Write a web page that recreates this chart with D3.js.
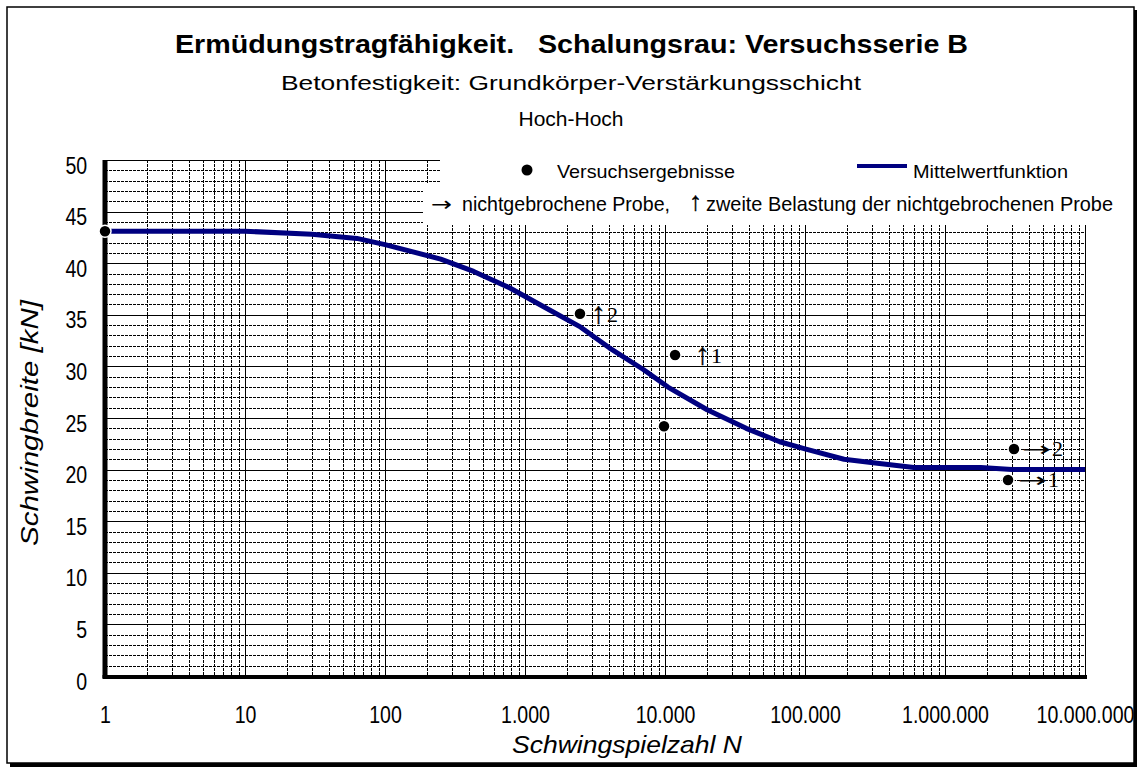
<!DOCTYPE html>
<html><head><meta charset="utf-8">
<script src="https://cdn.jsdelivr.net/npm/d3@7"></script>
<style>
body{margin:0;background:#fff;}
svg{display:block;}
.sans{font-family:"Liberation Sans",Arial,Helvetica,sans-serif;}
.serif{font-family:"Liberation Serif","Times New Roman",serif;}
.arrow{font-family:"DejaVu Sans","DejaVu Serif",sans-serif;}
</style></head>
<body><svg id="c" width="1142" height="769"></svg>
<script>
// ---------- data ----------
const titleLines = ["Ermüdungstragfähigkeit.   Schalungsrau: Versuchsserie B",
                    "Betonfestigkeit: Grundkörper-Verstärkungsschicht",
                    "Hoch-Hoch"];
const xTicks = [1, 10, 100, 1000, 10000, 100000, 1000000, 10000000];
const yTicks = [0, 5, 10, 15, 20, 25, 30, 35, 40, 45, 50];
const xMinor = [2, 3, 4, 5, 6, 7, 8, 9];
const yMinor = [1,2,3,4,6,7,8,9,11,12,13,14,16,17,18,19,21,22,23,24,26,27,28,29,31,32,33,34,36,37,38,39,41,42,43,44,46,47,48,49];

// test results (Versuchsergebnisse)
const resultN     = [1, 2470, 11800, 9840, 3110000, 2820000];
const resultKN    = [43.1, 35.1, 31.1, 24.2, 22.0, 19.0];
const resultArrow = ["", "↑", "↑", "", "→", "→"];
const resultNo    = ["", "2", "1", "", "2", "1"];

// mean-value function (Mittelwertfunktion)
const meanN  = [1, 10, 30, 63, 100, 250, 430, 780, 1350, 2500, 4000, 7000, 10500, 20000, 38000, 66000, 100000, 190000, 340000, 600000, 1800000, 3000000, 10000000];
const meanKN = [43.1, 43.1, 42.8, 42.4, 41.8, 40.4, 39.2, 37.6, 35.8, 33.8, 31.8, 29.7, 28.0, 25.8, 24.0, 22.7, 22.0, 21.0, 20.6, 20.2, 20.2, 20.0, 20.0];

const legendItems = ["Versuchsergebnisse", "Mittelwertfunktion"];
const legendNoteParts = ["→", "nichtgebrochene Probe,", "↑", "zweite Belastung der nichtgebrochenen Probe"];
const xTitle = "Schwingspielzahl N";
const yTitle = "Schwingbreite [kN]";

// ---------- drawing ----------
const svg = d3.select("#c");
const x = d3.scaleLog().domain([1, 1e7]).range([105, 1085]);
const y = d3.scaleLinear().domain([0, 50]).range([676, 160]);
const de = d3.formatLocale({decimal:",", thousands:".", grouping:[3], currency:["","€"]});
const fmt = de.format(",");
const px = v => Math.round(v) + 0.5;

// outer frame with shadow
svg.append("rect").attr("x",1133).attr("y",10).attr("width",4).attr("height",757).attr("fill","#000");
svg.append("rect").attr("x",10).attr("y",763).attr("width",1127).attr("height",4).attr("fill","#000");
svg.append("rect").attr("x",7).attr("y",7).attr("width",1127).attr("height",756)
  .attr("fill","#fff").attr("stroke","#000").attr("stroke-width",1.5);

// grid
const g = svg.append("g").attr("shape-rendering","crispEdges");
const minorX = [];
for (let d = 0; d < 7; d++) xMinor.forEach(m => minorX.push(m * Math.pow(10, d)));

g.selectAll("line.mx").data(minorX).join("line")
  .attr("x1", d => px(x(d))).attr("x2", d => px(x(d))).attr("y1", y(50)).attr("y2", y(0))
  .attr("stroke","#000").attr("stroke-width",1).attr("stroke-dasharray","3,1");
g.selectAll("line.my").data(yMinor).join("line")
  .attr("x1", x(1)).attr("x2", x(1e7)).attr("y1", d => px(y(d))).attr("y2", d => px(y(d)))
  .attr("stroke","#000").attr("stroke-width",1).attr("stroke-dasharray","3,1");
g.selectAll("line.Mx").data(xTicks).join("line")
  .attr("x1", d => px(x(d))).attr("x2", d => px(x(d))).attr("y1", y(50)).attr("y2", y(0))
  .attr("stroke","#000").attr("stroke-width",1);
g.selectAll("line.My").data(yTicks).join("line")
  .attr("x1", x(1)).attr("x2", x(1e7)).attr("y1", d => px(y(d))).attr("y2", d => px(y(d)))
  .attr("stroke","#000").attr("stroke-width",1);

// legend white areas
svg.append("rect").attr("x",440).attr("y",157).attr("width",x(1e7)-440+4).attr("height",28).attr("fill","#fff");
svg.append("rect").attr("x",423).attr("y",183).attr("width",x(1e7)-423+4).attr("height",42).attr("fill","#fff");

// axes lines (thick)
svg.append("line").attr("x1",x(1)).attr("x2",x(1)).attr("y1",y(50)).attr("y2",y(0)+2)
  .attr("stroke","#000").attr("stroke-width",5);
svg.append("line").attr("x1",x(1)-2.5).attr("x2",x(1e7)+2).attr("y1",y(0)+1).attr("y2",y(0)+1)
  .attr("stroke","#000").attr("stroke-width",4);

// axes labels via d3 axes
const xAxis = svg.append("g").attr("transform",`translate(0,${y(0)})`)
  .call(d3.axisBottom(x).tickValues(xTicks).tickSize(0).tickPadding(31).tickFormat(fmt));
xAxis.select(".domain").remove();
xAxis.selectAll("text").attr("class","sans").attr("font-size",23).attr("fill","#000")
  .attr("transform","scale(0.85,1)");

const yAxis = svg.append("g").attr("transform",`translate(${x(1)},0)`)
  .call(d3.axisLeft(y).tickValues(yTicks).tickSize(0).tickPadding(21));
yAxis.select(".domain").remove();
yAxis.selectAll("text").attr("class","sans").attr("font-size",23).attr("fill","#000")
  .attr("dy","0.57em").attr("transform","scale(0.85,1)");

// mean line
const line = d3.line().x((d,i) => x(meanN[i])).y((d,i) => y(meanKN[i]));
svg.append("path").datum(meanN).attr("d", line)
  .attr("fill","none").attr("stroke","#000080").attr("stroke-width",5).attr("stroke-linejoin","round");

// result points
const idx = d3.range(resultN.length);
svg.selectAll("circle.res").data(idx).join("circle")
  .attr("cx", i => x(resultN[i])).attr("cy", i => y(resultKN[i])).attr("r",6)
  .attr("fill","#000").attr("stroke","#fff").attr("stroke-width",1.5);

// annotation arrows + numbers
const arrowDx = [0, 11, 20, 8, 8, 10];
const notes = idx.filter(i => resultArrow[i]);
notes.forEach(i => {
  const cx = x(resultN[i]), cy = y(resultKN[i]);
  if (resultArrow[i] === "↑") {
    const t = svg.append("text").attr("class","serif").attr("x", cx + arrowDx[i]).attr("y", cy + 8)
      .attr("fill","#000");
    t.append("tspan").attr("font-size",30).attr("dy",1)
      .attr("stroke","#000").attr("stroke-width",0.4).text(resultArrow[i]);
    t.append("tspan").attr("font-size",22).attr("dy",-1).attr("dx",1).text(resultNo[i]);
  } else {
    svg.append("text").attr("class","arrow").attr("x", cx + arrowDx[i]).attr("y", cy + 7)
      .attr("font-size",20).attr("fill","#000")
      .attr("textLength",29).attr("lengthAdjust","spacingAndGlyphs").text(resultArrow[i]);
    svg.append("text").attr("class","serif").attr("x", cx + arrowDx[i] + 30).attr("y", cy + 7)
      .attr("font-size",22).attr("fill","#000").text(resultNo[i]);
  }
});

// legend
svg.append("circle").attr("cx",527).attr("cy",170).attr("r",5.5).attr("fill","#000");
svg.append("text").attr("class","sans").attr("x",557).attr("y",178).attr("font-size",19)
  .attr("textLength",178).attr("lengthAdjust","spacingAndGlyphs").text(legendItems[0]);
svg.append("line").attr("x1",857).attr("x2",907).attr("y1",166).attr("y2",166).attr("stroke","#000080").attr("stroke-width",4);
svg.append("text").attr("class","sans").attr("x",913).attr("y",178).attr("font-size",19)
  .attr("textLength",155).attr("lengthAdjust","spacingAndGlyphs").text(legendItems[1]);
// legend note line (arrows drawn larger, as in the reference)
svg.append("text").attr("class","arrow").attr("x",431).attr("y",211).attr("font-size",20)
  .attr("textLength",21).attr("lengthAdjust","spacingAndGlyphs").text(legendNoteParts[0]);
svg.append("text").attr("class","sans").attr("x",462).attr("y",211).attr("font-size",21)
  .attr("textLength",208).attr("lengthAdjust","spacingAndGlyphs").text(legendNoteParts[1]);
svg.append("text").attr("class","serif").attr("x",689).attr("y",210).attr("font-size",26)
  .attr("stroke","#000").attr("stroke-width",0.4).text(legendNoteParts[2]);
svg.append("text").attr("class","sans").attr("x",706).attr("y",211).attr("font-size",21)
  .attr("textLength",407).attr("lengthAdjust","spacingAndGlyphs").text(legendNoteParts[3]);

// titles
svg.append("text").attr("class","sans").attr("x",571.5).attr("y",53).attr("text-anchor","middle")
  .attr("font-size",25).attr("font-weight","bold").style("white-space","pre")
  .attr("textLength",793).attr("lengthAdjust","spacingAndGlyphs").text(titleLines[0]);
svg.append("text").attr("class","sans").attr("x",571).attr("y",90).attr("text-anchor","middle")
  .attr("font-size",21).attr("textLength",580).attr("lengthAdjust","spacingAndGlyphs").text(titleLines[1]);
svg.append("text").attr("class","sans").attr("x",571).attr("y",126).attr("text-anchor","middle")
  .attr("font-size",21).text(titleLines[2]);

// axis titles
svg.append("text").attr("class","sans").attr("x",627).attr("y",753).attr("text-anchor","middle")
  .attr("font-size",24).attr("font-style","italic")
  .attr("textLength",230).attr("lengthAdjust","spacingAndGlyphs").text(xTitle);
svg.append("text").attr("class","sans").attr("transform","translate(38,423) rotate(-90)")
  .attr("text-anchor","middle").attr("font-size",24).attr("font-style","italic")
  .attr("textLength",246).attr("lengthAdjust","spacingAndGlyphs").text(yTitle);
</script></body></html>
